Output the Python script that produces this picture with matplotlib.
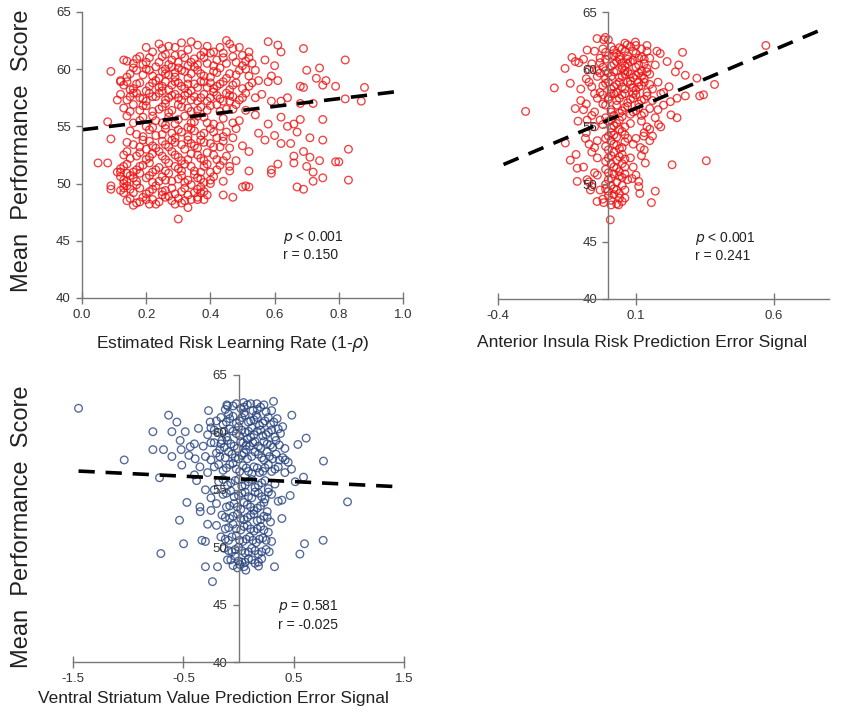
import matplotlib
matplotlib.use('Agg')
import matplotlib.pyplot as plt
import numpy as np

plt.rcParams['font.family'] = ['Liberation Sans', 'DejaVu Sans']

# Panel A: estimated risk learning rate vs mean performance
risk_pts = [
    # sparse right side
    (0.58, 62.4), (0.61, 62.1), (0.69, 61.8), (0.82, 60.8), (0.74, 60.1), (0.70, 59.9), (0.60, 60.3),
    (0.76, 59.0), (0.73, 59.2), (0.75, 58.6), (0.79, 58.5), (0.69, 58.4), (0.68, 58.5), (0.88, 58.4),
    (0.87, 57.2), (0.82, 57.4), (0.72, 57.0), (0.68, 57.0), (0.64, 57.5), (0.62, 57.2), (0.59, 57.2),
    (0.56, 57.8), (0.58, 58.9), (0.61, 59.0), (0.59, 59.4), (0.57, 60.8), (0.62, 61.5),
    (0.75, 55.6), (0.68, 55.6), (0.66, 55.2), (0.62, 55.8), (0.64, 55.0), (0.58, 55.2), (0.60, 54.2),
    (0.62, 53.5), (0.65, 53.5), (0.67, 54.5), (0.71, 54.0), (0.75, 53.8), (0.57, 53.8), (0.55, 54.4),
    (0.69, 52.8), (0.71, 52.3), (0.66, 52.4), (0.74, 52.0), (0.70, 51.5), (0.79, 51.9), (0.80, 51.9),
    (0.83, 53.0), (0.61, 51.7), (0.66, 51.8), (0.72, 51.0), (0.59, 51.2), (0.59, 50.9), (0.67, 49.7),
    (0.69, 49.5), (0.72, 50.2), (0.75, 50.5), (0.83, 50.3), (0.52, 51.1), (0.51, 49.8), (0.50, 49.7),
    (0.52, 49.7), (0.47, 48.8), (0.44, 49.0), (0.46, 51.5), (0.50, 53.3), (0.52, 52.8), (0.54, 56.0),
    (0.48, 54.8), (0.49, 55.5),
    # sparse left side
    (0.05, 51.8), (0.08, 51.8), (0.09, 49.8), (0.09, 49.5), (0.08, 55.4), (0.09, 53.9), (0.09, 59.8),
    (0.11, 57.3), (0.12, 58.9), (0.13, 60.8), (0.12, 51.0), (0.13, 50.0), (0.13, 49.2),
    # bottom
    (0.30, 46.9), (0.33, 47.9), (0.31, 48.3), (0.30, 48.7), (0.28, 48.5), (0.25, 49.3), (0.36, 48.6),
    (0.37, 49.2), (0.40, 50.0),
    # dense upper cluster
    (0.25, 61.8), (0.27, 62.0), (0.31, 62.3), (0.33, 61.7), (0.36, 62.1), (0.38, 61.5), (0.41, 61.5),
    (0.45, 62.5), (0.46, 62.2), (0.47, 61.8), (0.43, 61.9), (0.22, 61.5), (0.29, 61.2), (0.50, 61.2),
    (0.52, 61.5), (0.40, 61.4),
    (0.14, 60.7), (0.16, 60.5), (0.19, 60.4), (0.21, 61.0), (0.24, 60.6), (0.26, 61.3), (0.28, 60.8),
    (0.30, 60.6), (0.32, 61.0), (0.35, 60.9), (0.37, 61.2), (0.39, 60.5), (0.42, 60.8), (0.44, 61.0),
    (0.48, 60.6), (0.51, 60.7), (0.53, 60.5), (0.18, 61.1), (0.23, 60.2), (0.33, 60.3),
    (0.12, 59.0), (0.15, 59.6), (0.17, 59.9), (0.20, 60.0), (0.22, 59.4), (0.25, 59.8), (0.27, 59.5),
    (0.28, 60.2), (0.29, 59.7), (0.31, 59.9), (0.34, 59.6), (0.36, 59.9), (0.38, 59.4), (0.41, 59.8),
    (0.43, 60.1), (0.46, 59.6), (0.49, 59.9), (0.52, 59.4), (0.54, 59.9), (0.26, 60.0), (0.30, 60.1),
    (0.13, 58.6), (0.14, 58.9), (0.16, 58.3), (0.18, 58.8), (0.21, 58.5), (0.23, 59.0), (0.24, 58.4),
    (0.26, 58.9), (0.28, 58.6), (0.30, 58.8), (0.32, 58.3), (0.35, 58.7), (0.37, 58.9), (0.39, 58.4),
    (0.40, 58.8), (0.42, 58.5), (0.44, 58.9), (0.47, 58.6), (0.50, 58.3), (0.53, 58.8), (0.55, 59.0),
    (0.12, 57.8), (0.15, 57.6), (0.17, 57.9), (0.19, 57.4), (0.21, 57.9), (0.23, 57.6), (0.25, 58.1),
    (0.27, 57.5), (0.29, 57.8), (0.31, 57.3), (0.33, 57.9), (0.35, 57.6), (0.36, 57.2), (0.38, 57.8),
    (0.40, 57.5), (0.41, 58.0), (0.43, 57.4), (0.45, 57.9), (0.47, 57.6), (0.49, 57.3), (0.51, 57.9),
    (0.54, 57.5),
    (0.13, 56.6), (0.16, 56.9), (0.18, 56.4), (0.20, 56.8), (0.24, 56.5), (0.26, 57.0), (0.28, 56.4),
    (0.31, 56.7), (0.34, 56.3), (0.37, 56.7), (0.39, 56.4), (0.42, 56.9), (0.45, 56.5), (0.48, 56.9),
    (0.51, 56.4), (0.46, 57.2),
    (0.20, 61.9), (0.24, 62.2), (0.29, 61.9), (0.34, 62.4), (0.39, 62.0), (0.44, 61.4), (0.49, 61.9),
    (0.17, 60.9), (0.20, 60.6), (0.25, 61.1), (0.27, 60.4), (0.31, 61.3), (0.34, 60.6), (0.36, 60.4),
    (0.38, 61.0), (0.41, 60.3), (0.45, 60.5), (0.47, 61.1), (0.50, 60.3), (0.52, 61.0),
    (0.14, 59.3), (0.16, 60.1), (0.19, 59.5), (0.21, 59.9), (0.24, 59.2), (0.26, 59.6), (0.29, 59.3),
    (0.32, 59.8), (0.33, 59.2), (0.35, 60.2), (0.37, 59.6), (0.40, 59.3), (0.42, 59.7), (0.45, 59.2),
    (0.48, 59.5), (0.51, 60.0),
    (0.15, 58.2), (0.17, 58.7), (0.20, 58.1), (0.22, 58.8), (0.25, 58.5), (0.27, 58.2), (0.29, 58.9),
    (0.31, 58.5), (0.33, 58.7), (0.34, 58.1), (0.36, 58.4), (0.38, 58.9), (0.41, 58.3), (0.43, 58.7),
    (0.46, 58.2), (0.48, 58.8), (0.52, 58.5),
    (0.14, 57.3), (0.16, 57.9), (0.18, 57.5), (0.20, 57.2), (0.22, 57.6), (0.24, 57.9), (0.26, 57.3),
    (0.28, 57.7), (0.30, 57.5), (0.32, 57.7), (0.34, 57.3), (0.37, 57.5), (0.39, 57.2), (0.42, 57.7),
    (0.44, 57.2), (0.46, 57.7), (0.50, 57.5),
    (0.15, 56.3), (0.19, 56.8), (0.22, 56.3), (0.25, 56.7), (0.27, 56.2), (0.30, 56.9), (0.33, 56.6),
    (0.36, 56.4), (0.40, 56.8), (0.43, 56.3), (0.47, 56.5),
    # dense lower cluster
    (0.14, 55.9), (0.18, 55.5), (0.22, 55.9), (0.25, 55.3), (0.27, 55.8), (0.29, 55.2), (0.32, 55.9),
    (0.35, 55.4), (0.38, 55.8), (0.41, 55.2), (0.44, 55.7), (0.47, 55.3), (0.20, 55.0), (0.33, 54.9),
    (0.17, 54.3), (0.21, 54.7), (0.23, 54.2), (0.26, 54.8), (0.28, 54.4), (0.30, 54.7), (0.33, 54.1),
    (0.35, 54.6), (0.37, 54.2), (0.40, 54.8), (0.42, 54.0), (0.45, 54.5), (0.47, 54.0),
    (0.16, 53.4), (0.19, 53.8), (0.22, 53.3), (0.25, 53.7), (0.27, 53.2), (0.29, 53.6), (0.32, 53.0),
    (0.34, 53.5), (0.36, 53.1), (0.38, 53.6), (0.41, 53.2), (0.44, 53.7), (0.46, 53.1), (0.20, 53.0),
    (0.15, 52.2), (0.18, 52.7), (0.21, 52.3), (0.24, 52.8), (0.26, 52.1), (0.29, 52.5), (0.31, 52.0),
    (0.34, 52.6), (0.37, 52.2), (0.39, 52.7), (0.42, 52.1), (0.45, 52.4), (0.48, 52.0), (0.13, 52.5),
    (0.12, 51.3), (0.14, 51.7), (0.17, 51.2), (0.19, 51.6), (0.22, 51.0), (0.24, 51.4), (0.27, 51.8),
    (0.30, 51.3), (0.32, 51.7), (0.35, 51.1), (0.38, 51.5), (0.40, 51.0), (0.43, 51.6), (0.46, 51.1),
    (0.11, 51.0),
    (0.13, 50.3), (0.15, 50.7), (0.17, 50.2), (0.20, 50.5), (0.22, 50.1), (0.25, 50.6), (0.28, 50.2),
    (0.31, 50.7), (0.33, 50.3), (0.36, 50.5), (0.38, 50.1), (0.41, 50.6), (0.44, 50.2), (0.14, 50.9),
    (0.27, 50.9),
    (0.12, 49.4), (0.14, 49.8), (0.16, 49.2), (0.18, 49.6), (0.21, 49.3), (0.23, 49.8), (0.26, 49.4),
    (0.29, 49.1), (0.32, 49.6), (0.35, 49.2), (0.37, 49.7), (0.39, 49.0), (0.34, 49.9),
    (0.15, 48.7), (0.17, 48.3), (0.19, 48.8), (0.21, 48.2), (0.22, 48.6), (0.24, 48.4), (0.27, 48.9),
    (0.32, 48.5), (0.36, 48.8), (0.16, 48.1),
    (0.16, 55.3), (0.19, 55.8), (0.23, 55.5), (0.26, 55.1), (0.30, 55.6), (0.34, 55.3), (0.36, 55.9),
    (0.39, 55.3), (0.43, 55.0),
    (0.15, 54.6), (0.19, 54.1), (0.22, 54.9), (0.25, 54.3), (0.29, 54.0), (0.31, 54.5), (0.34, 54.8),
    (0.38, 54.4), (0.41, 54.5), (0.44, 54.1),
    (0.14, 53.6), (0.18, 53.2), (0.21, 53.7), (0.23, 53.1), (0.26, 53.4), (0.28, 53.8), (0.31, 53.4),
    (0.33, 53.8), (0.35, 53.3), (0.37, 53.8), (0.40, 53.5), (0.43, 53.2),
    (0.14, 52.8), (0.17, 52.4), (0.20, 52.1), (0.22, 52.6), (0.25, 52.4), (0.28, 52.8), (0.30, 52.3),
    (0.33, 52.1), (0.36, 52.5), (0.38, 52.0), (0.41, 52.5), (0.44, 52.0),
    (0.13, 51.5), (0.16, 51.0), (0.18, 51.5), (0.21, 51.8), (0.23, 51.2), (0.26, 51.1), (0.29, 51.5),
    (0.31, 51.1), (0.34, 51.5), (0.37, 51.0), (0.39, 51.7), (0.42, 51.2),
    (0.12, 50.6), (0.14, 50.2), (0.16, 50.5), (0.18, 50.9), (0.21, 50.7), (0.24, 50.2), (0.26, 50.3),
    (0.30, 50.4), (0.32, 50.1), (0.35, 50.8), (0.37, 50.4), (0.40, 50.3),
    (0.13, 49.6), (0.15, 49.5), (0.17, 49.9), (0.20, 49.1), (0.22, 49.5), (0.25, 49.0), (0.28, 49.6),
    (0.31, 49.3), (0.33, 49.0), (0.36, 49.5), (0.38, 49.3),
    (0.14, 48.5), (0.18, 48.4), (0.20, 48.6), (0.23, 48.2), (0.26, 48.8), (0.29, 48.2), (0.34, 48.6),
    (0.38, 48.6),
]

# Panel B: anterior insula risk prediction error signal
insula_pts = [
    # sparse
    (-0.30, 56.35), (-0.196, 58.4), (-0.157, 60.1), (-0.132, 61.05), (-0.12, 60.7), (-0.107, 60.6),
    (-0.138, 58.8), (-0.12, 56.6), (-0.156, 53.6), (-0.138, 52.1), (-0.117, 52.6), (-0.113, 51.4),
    (-0.113, 50.25), (-0.077, 50.4), (-0.065, 49.5), (-0.077, 55.6), (-0.083, 54.0), (-0.077, 61.7),
    (-0.041, 62.7), (-0.017, 62.6), (-0.011, 62.8), (0.007, 46.9), (-0.017, 48.4), (-0.041, 48.5),
    (0.037, 48.2), (0.068, 62.15), (0.098, 62.4), (0.14, 62.1), (0.176, 61.6), (0.188, 61.4),
    (0.269, 61.5), (0.213, 60.7), (0.255, 60.4), (0.243, 59.8), (0.279, 59.5), (0.321, 59.25),
    (0.385, 58.7), (0.345, 57.8), (0.331, 57.7), (0.279, 57.7), (0.249, 57.5), (0.225, 57.2),
    (0.227, 56.05), (0.249, 55.8), (0.182, 55.2), (0.128, 54.2), (0.116, 53.2), (0.134, 51.85),
    (0.231, 51.7), (0.355, 52.05), (0.571, 62.1), (0.086, 50.5), (0.11, 50.25), (0.114, 49.2),
    (0.17, 49.4), (0.156, 48.4),
    # dense upper blob
    (-0.03, 61.0), (-0.01, 61.5), (0.01, 62.0), (0.03, 61.4), (0.05, 61.8), (0.07, 61.2), (0.09, 61.6),
    (0.11, 61.0), (0.12, 61.8), (0.02, 60.5), (0.04, 60.9), (0.06, 60.3), (0.08, 60.7), (0.10, 60.2),
    (0.13, 60.5), (-0.02, 60.2), (0.00, 59.7), (0.03, 59.9), (0.05, 59.4), (0.07, 59.8), (0.09, 59.3),
    (0.11, 59.7), (0.13, 59.2), (-0.04, 59.4), (-0.01, 58.8), (0.02, 58.5), (0.04, 58.9), (0.06, 58.3),
    (0.08, 58.7), (0.10, 58.2), (0.12, 58.6), (0.14, 58.0), (-0.03, 58.0), (0.00, 57.6), (0.03, 57.3),
    (0.05, 57.8), (0.07, 57.1), (0.09, 57.5), (0.11, 57.0), (0.13, 57.4), (-0.02, 57.0), (0.01, 56.5),
    (0.04, 56.2), (0.06, 56.7), (0.08, 56.1), (0.10, 56.4), (0.12, 56.0), (0.15, 56.6), (-0.05, 56.3),
    (-0.06, 58.5), (-0.07, 60.0), (0.00, 62.6), (0.06, 62.3), (0.10, 62.1), (0.15, 59.6), (0.16, 58.3),
    (0.15, 61.0), (0.02, 61.2), (0.08, 59.0), (0.05, 60.6), (-0.01, 59.2), (0.11, 58.9), (0.03, 58.0),
    (0.07, 60.9), (0.09, 57.9), (0.01, 57.9), (0.12, 59.9), (-0.04, 57.5), (0.06, 59.6), (0.04, 61.9),
    (-0.02, 61.8), (0.00, 61.2), (0.02, 61.7), (0.04, 61.1), (0.06, 61.6), (0.08, 62.0), (0.10, 61.4),
    (0.12, 61.1), (0.14, 61.6),
    (-0.03, 60.6), (-0.01, 60.9), (0.01, 60.3), (0.03, 60.7), (0.05, 60.1), (0.07, 60.5), (0.09, 60.8),
    (0.11, 60.4), (0.13, 60.9), (0.14, 60.1),
    (-0.03, 59.7), (-0.01, 59.9), (0.01, 59.4), (0.02, 59.8), (0.04, 59.3), (0.06, 59.9), (0.08, 59.6),
    (0.10, 59.5), (0.12, 59.4), (0.14, 59.8),
    (-0.02, 58.6), (0.00, 58.9), (0.01, 58.3), (0.03, 58.7), (0.05, 58.5), (0.07, 58.9), (0.09, 58.4),
    (0.11, 58.5), (0.13, 58.9), (0.15, 58.7),
    (-0.02, 57.8), (0.00, 57.4), (0.02, 57.9), (0.04, 57.5), (0.06, 57.9), (0.08, 57.4), (0.10, 57.8),
    (0.12, 57.3), (0.14, 57.7),
    (-0.01, 56.9), (0.01, 56.3), (0.03, 56.9), (0.05, 56.4), (0.07, 56.8), (0.09, 56.3), (0.11, 56.7),
    (0.13, 56.2), (0.02, 56.0),
    # lower column
    (0.00, 55.5), (0.02, 55.1), (0.04, 55.6), (0.06, 55.0), (0.01, 54.5), (0.03, 54.1), (0.05, 54.6),
    (-0.01, 54.0), (0.02, 53.5), (0.04, 53.1), (0.00, 53.0), (0.06, 53.7), (0.01, 52.5), (0.03, 52.1),
    (0.05, 52.6), (-0.01, 52.0), (0.02, 51.5), (0.04, 51.1), (0.00, 51.0), (0.06, 51.5), (0.01, 50.5),
    (0.03, 50.2), (0.05, 50.6), (-0.01, 50.0), (0.02, 49.6), (0.04, 49.2), (0.00, 49.0), (0.06, 49.5),
    (0.01, 48.6), (0.03, 48.3), (-0.02, 48.7), (0.05, 48.5), (0.07, 54.0), (0.08, 52.3), (0.07, 50.4),
    (0.08, 55.3), (-0.02, 55.2), (0.09, 53.5),
    (-0.01, 55.8), (0.01, 55.6), (0.03, 55.3), (0.05, 55.9), (0.01, 54.9), (0.02, 54.3), (0.04, 54.8),
    (0.06, 54.3), (0.00, 54.2), (0.01, 53.8), (0.03, 53.4), (0.05, 53.2), (-0.01, 53.3), (0.02, 52.8),
    (0.04, 52.4), (0.00, 52.3), (0.06, 52.2), (0.01, 51.8), (0.03, 51.4), (0.05, 51.8), (-0.01, 51.3),
    (0.02, 50.9), (0.04, 50.7), (0.00, 50.4), (0.06, 50.9), (0.01, 49.9), (0.03, 49.5), (0.05, 49.9),
    (0.00, 49.4), (0.02, 49.1), (0.04, 48.8), (0.01, 48.2), (0.06, 48.8), (-0.01, 49.6),
    # left and right of the column
    (-0.05, 55.0), (-0.08, 54.5), (-0.04, 53.8), (-0.06, 52.8), (-0.09, 51.5), (-0.05, 51.0),
    (-0.07, 50.2), (-0.03, 49.5), (-0.10, 57.3), (-0.08, 59.2), (-0.05, 61.6), (-0.09, 60.9),
    (-0.11, 55.5), (-0.04, 52.3),
    (-0.06, 60.5), (-0.04, 59.9), (-0.07, 58.9), (-0.05, 57.9), (-0.08, 57.0), (-0.06, 56.0),
    (-0.03, 55.6), (-0.05, 53.2), (-0.07, 53.5), (-0.04, 50.8), (-0.06, 49.8), (-0.09, 56.5),
    (-0.10, 58.3),
    (0.12, 55.5), (0.15, 54.8), (0.10, 54.0), (0.13, 53.0), (0.18, 56.5), (0.17, 55.8), (0.09, 51.5),
    (0.10, 50.8), (0.11, 49.8), (0.19, 57.9), (0.20, 56.9), (0.14, 55.0),
    (0.16, 57.3), (0.18, 58.9), (0.17, 60.4), (0.20, 58.0), (0.16, 54.2), (0.13, 54.5), (0.12, 52.5),
    (0.15, 53.8), (0.19, 55.0), (0.22, 58.5),
]

# Panel C: ventral striatum value prediction error signal
striatum_pts = [
    # sparse
    (-1.45, 62.1), (-0.776, 60.06), (-0.776, 58.5), (-0.634, 61.5), (-0.559, 60.9), (-0.604, 60.06),
    (-0.483, 60.06), (-0.363, 60.35), (-0.529, 59.3), (-0.68, 58.5), (-0.604, 57.9), (-0.52, 58.5),
    (-0.438, 58.75), (-0.514, 57.15), (-0.393, 57.7), (-1.036, 57.6), (-0.716, 56.05), (-0.468, 53.9),
    (-0.535, 52.35), (-0.347, 53.1), (-0.704, 49.45), (-0.498, 50.3), (-0.332, 50.6), (-0.236, 47.0),
    (-0.30, 48.3), (-0.19, 48.3), (-0.272, 61.9), (-0.257, 60.9), (0.483, 61.5), (0.613, 59.5),
    (0.538, 58.95), (0.77, 57.5), (0.589, 56.1), (0.514, 55.7), (0.988, 53.95), (0.767, 50.6),
    (0.598, 50.3), (0.556, 49.4), (0.326, 48.3), (0.181, 48.35), (0.066, 48.0), (0.317, 62.7),
    (0.166, 62.5), (0.045, 62.6), (-0.106, 62.4), (0.393, 54.1), (0.393, 52.5), (0.278, 49.6),
    (0.468, 54.5), (0.423, 57.6),
    # dense upper blob
    (-0.12, 62.0), (-0.05, 62.3), (0.02, 62.1), (0.08, 62.4), (0.13, 61.9), (0.20, 62.2), (0.25, 61.8),
    (-0.09, 61.6), (0.05, 61.7), (0.16, 61.5), (0.30, 61.9),
    (-0.20, 61.0), (-0.14, 60.7), (-0.08, 61.2), (-0.02, 60.8), (0.03, 61.3), (0.09, 60.9), (0.14, 61.1),
    (0.19, 60.6), (0.24, 61.0), (0.29, 60.7), (0.35, 61.2), (0.40, 60.5), (-0.25, 60.4), (0.00, 60.5),
    (0.12, 60.4),
    (-0.28, 59.8), (-0.18, 60.0), (-0.11, 59.6), (-0.05, 60.1), (0.01, 59.7), (0.06, 60.0), (0.11, 59.6),
    (0.17, 60.1), (0.22, 59.7), (0.27, 60.0), (0.33, 59.6), (0.38, 59.9), (-0.15, 59.3), (0.08, 59.4),
    (-0.32, 58.8), (-0.22, 59.1), (-0.13, 58.7), (-0.07, 59.0), (-0.01, 58.6), (0.04, 59.1), (0.10, 58.8),
    (0.15, 59.2), (0.20, 58.6), (0.26, 59.0), (0.31, 58.7), (0.37, 58.9), (0.42, 58.6), (-0.17, 58.5),
    (0.07, 58.5),
    (-0.30, 57.9), (-0.20, 58.2), (-0.12, 57.8), (-0.06, 58.1), (0.00, 57.7), (0.05, 58.2), (0.12, 57.9),
    (0.18, 58.1), (0.23, 57.6), (0.28, 57.9), (0.34, 58.1), (0.40, 57.8), (-0.25, 57.6), (0.45, 57.4),
    (-0.22, 57.0), (-0.14, 56.7), (-0.08, 57.2), (-0.02, 56.8), (0.04, 57.1), (0.09, 56.6), (0.14, 57.0),
    (0.19, 56.5), (0.24, 56.9), (0.30, 56.6), (0.36, 57.0), (0.42, 56.5), (-0.28, 56.5), (0.48, 56.8),
    (-0.10, 62.3), (-0.02, 62.5), (0.05, 62.2), (0.11, 62.5), (0.17, 62.0), (0.23, 62.4),
    (-0.16, 61.3), (-0.11, 60.9), (-0.05, 61.4), (0.01, 61.0), (0.06, 61.5), (0.11, 61.0), (0.17, 61.3),
    (0.22, 60.8), (0.27, 61.3), (0.32, 60.9),
    (-0.22, 60.2), (-0.13, 60.1), (-0.08, 60.3), (-0.02, 59.9), (0.03, 60.2), (0.09, 60.1), (0.14, 59.8),
    (0.20, 60.2), (0.25, 59.8), (0.30, 60.2), (0.36, 60.3),
    (-0.25, 59.1), (-0.16, 59.0), (-0.10, 59.3), (-0.04, 58.8), (0.02, 59.2), (0.07, 58.9), (0.13, 59.1),
    (0.18, 58.8), (0.23, 59.2), (0.29, 58.9), (0.34, 59.3),
    (-0.17, 57.9), (-0.09, 58.3), (-0.03, 57.8), (0.03, 58.0), (0.08, 57.7), (0.15, 58.3), (0.21, 57.8),
    (0.26, 58.3), (0.31, 57.7), (0.37, 57.6),
    (-0.18, 57.2), (-0.11, 56.9), (-0.05, 57.3), (0.01, 56.6), (0.07, 56.9), (0.12, 56.4), (0.17, 56.9),
    (0.22, 56.6), (0.27, 57.2), (0.33, 56.8),
    # lower column
    (-0.18, 55.7), (-0.10, 55.4), (-0.03, 55.8), (0.03, 55.3), (0.09, 55.7), (0.15, 55.2), (0.21, 55.6),
    (0.27, 55.1), (0.33, 55.5), (-0.22, 55.0),
    (-0.14, 54.6), (-0.07, 54.9), (0.00, 54.5), (0.06, 54.8), (0.12, 54.3), (0.18, 54.7), (0.24, 54.2),
    (0.30, 54.6), (0.36, 54.0),
    (-0.20, 53.8), (-0.11, 53.5), (-0.04, 53.8), (0.02, 53.3), (0.08, 53.7), (0.14, 53.2), (0.20, 53.6),
    (0.26, 53.1), (-0.25, 53.2),
    (-0.15, 52.8), (-0.08, 52.5), (-0.01, 52.9), (0.05, 52.4), (0.11, 52.8), (0.17, 52.3), (0.23, 52.7),
    (0.29, 52.2),
    (-0.20, 51.9), (-0.12, 51.6), (-0.05, 52.0), (0.02, 51.5), (0.08, 51.9), (0.14, 51.4), (0.20, 51.8),
    (0.27, 51.3),
    (-0.16, 50.9), (-0.09, 50.6), (-0.02, 51.0), (0.04, 50.5), (0.10, 50.9), (0.16, 50.4), (0.22, 50.8),
    (0.30, 50.5),
    (-0.13, 49.9), (-0.06, 49.6), (0.00, 50.0), (0.06, 49.5), (0.12, 49.9), (0.18, 49.4), (0.25, 49.8),
    (-0.10, 48.9), (-0.03, 49.2), (0.03, 48.7), (0.09, 49.0), (0.15, 48.6), (0.21, 49.0), (-0.05, 48.4),
    (0.01, 48.5),
    (-0.14, 55.9), (-0.07, 55.6), (0.00, 55.9), (0.06, 55.4), (0.12, 55.9), (0.18, 55.4), (0.24, 55.8),
    (-0.11, 54.7), (-0.04, 54.4), (0.03, 54.7), (0.09, 54.4), (0.15, 54.8), (0.21, 54.4), (0.27, 54.8),
    (-0.08, 53.6), (-0.01, 53.5), (0.05, 53.9), (0.11, 53.5), (0.17, 53.4), (0.23, 53.9),
    (-0.12, 52.6), (-0.05, 52.7), (0.02, 52.5), (0.08, 52.6), (0.14, 52.9), (0.20, 52.4), (0.26, 52.6),
    (-0.09, 51.7), (-0.02, 51.6), (0.05, 51.8), (0.11, 51.6), (0.17, 51.6), (0.23, 51.5),
    (-0.12, 50.7), (-0.06, 50.9), (0.01, 50.6), (0.07, 50.7), (0.13, 50.6), (0.19, 50.7), (0.25, 50.6),
    (-0.09, 49.7), (-0.03, 49.8), (0.03, 49.7), (0.09, 49.6), (0.15, 49.7), (0.21, 49.6),
    (-0.07, 48.9), (0.00, 48.8), (0.06, 48.7), (0.12, 48.9), (0.18, 48.7), (0.05, 48.3), (-0.01, 48.2),
    # left spread
    (-0.40, 59.0), (-0.45, 58.0), (-0.35, 57.0), (-0.40, 56.3), (-0.30, 55.0), (-0.35, 53.5),
    (-0.28, 52.0), (-0.30, 50.5), (-0.38, 55.8), (-0.25, 54.3),
]

# regression lines: (intercept, slope, x start, x end)
fit_risk = (54.7, 3.4, 0.0, 1.0)
fit_insula = (55.6, 10.2, -0.38, 0.79)
fit_striatum = (55.95, -0.47, -1.45, 1.48)

stats_risk = ['< 0.001', '0.150']
stats_insula = ['< 0.001', '0.241']
stats_striatum = ['= 0.581', '-0.025']

y_ticks = [40, 45, 50, 55, 60, 65]
risk_xticks = [0.0, 0.2, 0.4, 0.6, 0.8, 1.0]
insula_xticks = [-0.4, 0.1, 0.6]
striatum_xticks = [-1.5, -0.5, 0.5, 1.5]

fig = plt.figure(figsize=(8.56, 7.17), dpi=100)


def panel(rect, pts, color, fit, stats, xlim, xticks, xlabel, xlab_pos, stat_pos, center_spine):
    ax = fig.add_axes(rect)
    xs = [p[0] for p in pts]
    ys = [p[1] for p in pts]
    ax.scatter(xs, ys, s=30, facecolors='none', edgecolors=color, linewidths=0.95, alpha=0.8)
    b, m, x0, x1 = fit
    lx = np.array([x0, x1])
    ax.plot(lx, b + m * lx, color='black', lw=2.6, dashes=(4.5, 3))
    ax.set_xlim(xlim)
    ax.set_ylim(40, 65)
    ax.set_xticks(xticks)
    ax.set_xticklabels(['{:.1f}'.format(t) for t in xticks])
    ax.set_yticks(y_ticks)
    for s in ['top', 'right']:
        ax.spines[s].set_visible(False)
    for s in ['left', 'bottom']:
        ax.spines[s].set_color('#777777')
        ax.spines[s].set_linewidth(1.0)
    if center_spine:
        ax.spines['left'].set_position(('data', 0))
    ax.tick_params(axis='x', direction='inout', length=8, width=1, color='#777777',
                   labelsize=9.5, labelcolor='#333333', pad=4)
    ax.tick_params(axis='y', direction='out', length=4, width=1, color='#777777',
                   labelsize=9.5, labelcolor='#333333', pad=4)
    ax.set_xlabel(xlabel, fontsize=12.5, color='#222222')
    ax.xaxis.set_label_coords(*xlab_pos)
    ax.text(stat_pos[0], stat_pos[1], r'$p$ ' + stats[0], fontsize=10, color='#222222',
            transform=ax.transAxes)
    ax.text(stat_pos[0], stat_pos[1] - 0.065, 'r = ' + stats[1], fontsize=10, color='#222222',
            transform=ax.transAxes)
    return ax


red = '#F01010'
navy = '#27437F'

ax1 = panel([0.0958, 0.5844, 0.375, 0.399], risk_pts, red, fit_risk, stats_risk,
            (0.0, 1.0), risk_xticks, 'Estimated Risk Learning Rate (1-$\\rho$)',
            (0.47, -0.125), (0.625, 0.2), False)
ax2 = panel([0.5818, 0.583, 0.3867, 0.4], insula_pts, red, fit_insula, stats_insula,
            (-0.4, 0.8), insula_xticks, 'Anterior Insula Risk Prediction Error Signal',
            (0.435, -0.125), (0.595, 0.2), True)
ax3 = panel([0.0853, 0.0767, 0.3867, 0.4003], striatum_pts, navy, fit_striatum, stats_striatum,
            (-1.5, 1.5), striatum_xticks, 'Ventral Striatum Value Prediction Error Signal',
            (0.423, -0.1), (0.62, 0.18), True)

ax1.set_ylabel('Mean  Performance  Score', fontsize=17, color='#222222')
ax1.yaxis.set_label_coords(-0.153, 0.515)
ax3.set_ylabel('Mean  Performance  Score', fontsize=17, color='#222222')
ax3.yaxis.set_label_coords(-0.121, 0.47)

fig.savefig('out.png', dpi=100)
